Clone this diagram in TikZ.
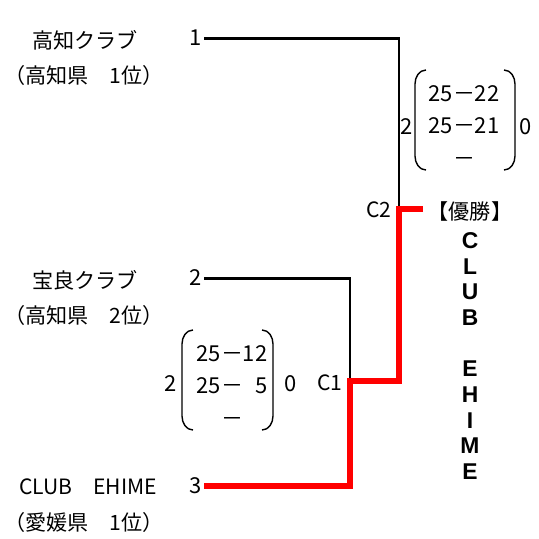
\documentclass[tikz,border=0pt]{standalone}
\usepackage{fontspec}
\setmainfont{Noto Sans CJK JP}
\newfontfamily\latinfont{Liberation Sans}
\usetikzlibrary{positioning}
\tikzset{
team/.style={inner sep=0pt, font=\fontsize{12}{14}\selectfont}, % team name and prefecture
seed/.style={inner sep=1pt, font=\fontsize{12.5}{14}\selectfont}, % seed number at the start of a line
score/.style={inner sep=0pt, align=center, font=\fontsize{12.5}{18.7}\selectfont}, % set scores
match/.style={line width=1.7pt, line join=miter}, % black bracket lines
win/.style={line width=3.4pt, red, line join=miter}, % path of the winner
paren/.style={line width=0.8pt}, % round brackets round the scores
}
\begin{document}
\begin{tikzpicture}[x=0.02cm, y=-0.02cm]
        \useasboundingbox (0,0) rectangle (539,539);
        \node[team] at (85,40) (t1) {高知クラブ};
        \node[team] at (84,75) (p1) {（高知県　1位）};
        \node[seed] at (196,38) (n1) {1};
        \node[team] at (85,280) (t2) {宝良クラブ};
        \node[team] at (84,315) (p2) {（高知県　2位）};
        \node[seed] at (196,278) (n2) {2};
        \node[team] at (88,487) (t3) {CLUB　EHIME};
        \node[team] at (84,522) (p3) {（愛媛県　1位）};
        \node[seed] at (196,486) (n3) {3};
        \coordinate (c1) at (350,381);
        \coordinate (c2) at (399,209);
        \coordinate (c3) at (423,209);
        \node[team] at (330,383) (l1) {C1};
        \node[team] at (379,210) (l2) {C2};
        \node[team] at (470,211) (champ) {【優勝】};
        \node[inner sep=0pt, align=center, font=\latinfont\bfseries\fontsize{13}{14.6pt}\selectfont] at (470,356) (w) {C\\L\\U\\B\\\strut\\E\\H\\I\\M\\E};
        % scores of the matches
        \node[score] at (464,126) (s2) {25－22\\25－21\\－};
        \node[seed] at (407,127) (a2) {2};
        \node[seed] at (526,127) (b2) {0};
        \node[score] at (232,386) (s1) {25－12\\25－\phantom{1}5\\－};
        \node[seed] at (171,384) (a1) {2};
        \node[seed] at (291,384) (b1) {0};
        \draw[paren] (426,70) to[out=180,in=90] (415,84) -- (415,156) to[out=-90,in=180] (426,170)
        (504,70) to[out=0,in=90] (515,84) -- (515,156) to[out=-90,in=0] (504,170)
        (193,330) to[out=180,in=90] (182,344) -- (182,416) to[out=-90,in=180] (193,430)
        (262,330) to[out=0,in=90] (273,344) -- (273,416) to[out=-90,in=0] (262,430);
        \draw[match] (n1.east) -| (c2);
        \draw[match] (n2.east) -| (c1);
        \draw[win] (n3.east) -| (c1) -| (c2) -- (c3);
    \end{tikzpicture}
\end{document}
